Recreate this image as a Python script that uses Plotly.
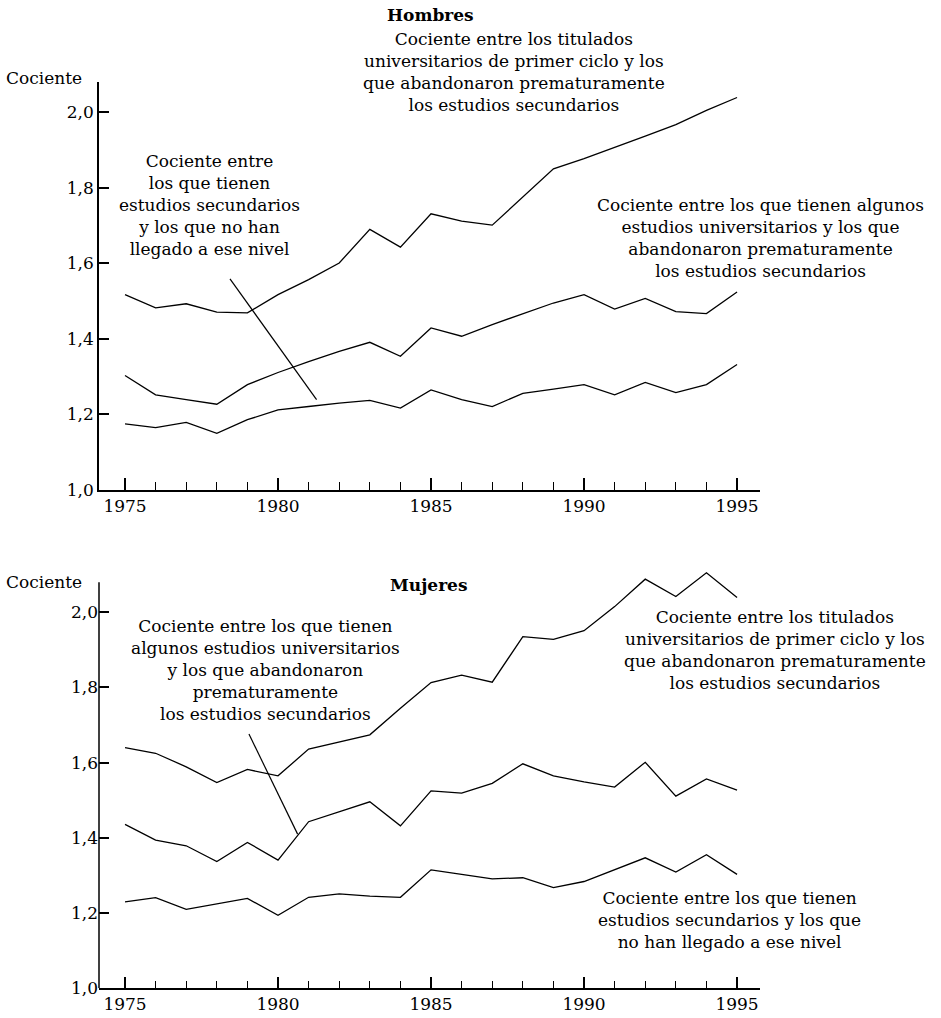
import plotly.graph_objects as go

years = list(range(1975, 1996))

# Hombres
h_titulados = [1.517, 1.482, 1.493, 1.471, 1.469, 1.517, 1.557, 1.601, 1.690, 1.643, 1.731,
               1.712, 1.701, 1.776, 1.850, 1.877, 1.906, 1.937, 1.967, 2.005, 2.039]
h_algunos = [1.303, 1.252, 1.239, 1.227, 1.279, 1.311, 1.340, 1.367, 1.391, 1.354, 1.429,
             1.407, 1.438, 1.467, 1.495, 1.517, 1.479, 1.507, 1.472, 1.467, 1.524]
h_secundarios = [1.175, 1.165, 1.179, 1.150, 1.186, 1.212, 1.221, 1.230, 1.237, 1.217, 1.265,
                 1.239, 1.221, 1.256, 1.267, 1.279, 1.252, 1.285, 1.258, 1.279, 1.332]

# Mujeres
m_titulados = [1.640, 1.625, 1.589, 1.547, 1.582, 1.565, 1.636, 1.656, 1.674, 1.745, 1.813,
               1.833, 1.814, 1.935, 1.928, 1.951, 2.015, 2.088, 2.042, 2.105, 2.039]
m_algunos = [1.436, 1.394, 1.379, 1.337, 1.388, 1.341, 1.443, 1.470, 1.496, 1.432, 1.525,
             1.519, 1.545, 1.597, 1.565, 1.549, 1.535, 1.601, 1.511, 1.557, 1.527]
m_secundarios = [1.230, 1.241, 1.210, 1.224, 1.239, 1.194, 1.242, 1.251, 1.245, 1.242, 1.315,
                 1.303, 1.291, 1.294, 1.268, 1.284, 1.315, 1.347, 1.309, 1.355, 1.303]

titles = ["Hombres", "Mujeres"]
y_label = "Cociente"

h_labels = [
    "Cociente entre los titulados<br>universitarios de primer ciclo y los<br>que abandonaron prematuramente<br>los estudios secundarios",
    "Cociente entre<br>los que tienen<br>estudios secundarios<br>y los que no han<br>llegado a ese nivel",
    "Cociente entre los que tienen algunos<br>estudios universitarios y los que<br>abandonaron prematuramente<br>los estudios secundarios",
]
m_labels = [
    "Cociente entre los que tienen<br>algunos estudios universitarios<br>y los que abandonaron<br>prematuramente<br>los estudios secundarios",
    "Cociente entre los titulados<br>universitarios de primer ciclo y los<br>que abandonaron prematuramente<br>los estudios secundarios",
    "Cociente entre los que tienen<br>estudios secundarios y los que<br>no han llegado a ese nivel",
]

W, H = 941, 1018
FONT = "DejaVu Serif"
FS = 17


def px(x):
    return x / W


def py(y):
    return 1 - y / H


fig = go.Figure()
line_style = dict(color="black", width=1.3)
for s in [h_titulados, h_algunos, h_secundarios]:
    fig.add_trace(go.Scatter(x=years, y=s, mode="lines", line=line_style,
                             xaxis="x", yaxis="y", showlegend=False))
for s in [m_titulados, m_algunos, m_secundarios]:
    fig.add_trace(go.Scatter(x=years, y=s, mode="lines", line=line_style,
                             xaxis="x2", yaxis="y2", showlegend=False))

xax = dict(
    range=[1974.15, 1995.75], tickmode="linear", tick0=1975, dtick=5,
    ticks="inside", ticklen=12, tickwidth=1.5, tickcolor="black",
    minor=dict(tick0=1975, dtick=1, ticks="inside", ticklen=8, tickwidth=1.2, tickcolor="black"),
    showline=True, linecolor="black", linewidth=1.5, showgrid=False, zeroline=False,
    tickfont=dict(family=FONT, size=FS, color="black"), domain=[px(99), px(760)],
    automargin=False,
)
yax = dict(
    tickmode="linear", tick0=1.0, dtick=0.2, tickformat=".1f",
    ticks="inside", ticklen=10, tickwidth=1.5, tickcolor="black",
    showgrid=False, zeroline=False,
    tickfont=dict(family=FONT, size=FS, color="black"), automargin=False,
)

fig.update_layout(
    width=W, height=H, margin=dict(l=0, r=0, t=0, b=0),
    paper_bgcolor="white", plot_bgcolor="white", separators=",.",
    font=dict(family=FONT, size=FS, color="black"),
    xaxis=dict(xax, anchor="y"),
    yaxis=dict(yax, range=[1.0, 2.08], domain=[py(490), py(82)], anchor="x",
               showline=True, linecolor="black", linewidth=1.5),
    xaxis2=dict(xax, anchor="y2"),
    yaxis2=dict(yax, range=[1.0, 2.115], domain=[py(988.3), py(569)], anchor="x2",
                showline=False),
)

# y axis line of the bottom panel (stops at the same height as the top one)
fig.add_shape(type="line", xref="x2 domain", yref="y2", x0=0, x1=0, y0=1.0, y1=2.08,
              line=dict(color="black", width=1.5))

# pointer lines
fig.add_shape(type="line", xref="x", yref="y", x0=1978.43, y0=1.559, x1=1981.26, y1=1.239,
              line=dict(color="black", width=1.2))
fig.add_shape(type="line", xref="x2", yref="y2", x0=1979.05, y0=1.676, x1=1980.64, y1=1.410,
              line=dict(color="black", width=1.2))


def ann(text, x, y, bold=False):
    fig.add_annotation(text=f"<b>{text}</b>" if bold else text, xref="paper", yref="paper",
                       x=px(x), y=py(y), xanchor="center", yanchor="middle",
                       showarrow=False, align="center",
                       font=dict(family=FONT, size=FS, color="black"))


ann(titles[0], 430, 15, bold=True)
ann(titles[1], 429, 585, bold=True)
ann(y_label, 44, 78)
ann(y_label, 44, 582)

ann(h_labels[0], 514, 72)
ann(h_labels[1], 209, 205)
ann(h_labels[2], 760, 238)

ann(m_labels[0], 265, 670)
ann(m_labels[1], 775, 650)
ann(m_labels[2], 729, 920)

fig.write_html(
    "out.html",
    config={"displayModeBar": False},
    post_script="document.body.style.margin='0';document.body.style.overflow='hidden';",
)
